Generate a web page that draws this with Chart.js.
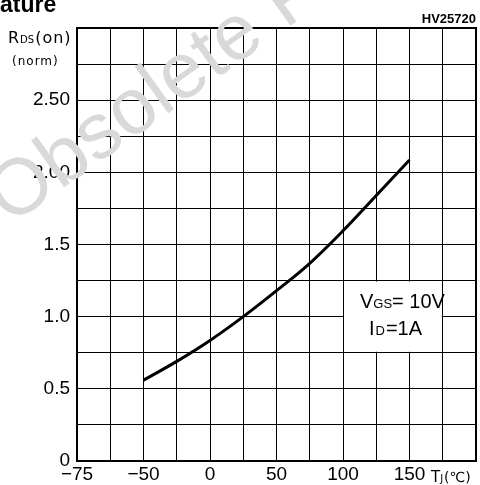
<!DOCTYPE html>
<html>
<head>
<meta charset="utf-8">
<script src="https://cdn.jsdelivr.net/npm/chart.js@4"></script>
<style>
  html, body { margin: 0; padding: 0; background: #fff; }
  #wrap { width: 480px; height: 485px; }
</style>
</head>
<body>
<div id="wrap"><canvas id="rdsChart" width="480" height="485"></canvas></div>
<script>
// junction temperature (°C) and normalized RDS(on)
const tempC = [-50, -25, 0, 25, 50, 75, 100, 125, 150];
const rdsNorm = [0.56, 0.69, 0.835, 1.0, 1.18, 1.37, 1.595, 1.84, 2.085];

// tick labels as printed on the sheet
const xTickValues = [-100, -50, 0, 50, 100, 150];
const xTickLabels = ['\u221275', '\u221250', '0', '50', '100', '150'];
const yTickValues = [0, 0.5, 1.0, 1.5, 2.0, 2.5];
const yTickLabels = ['0', '0.5', '1.0', '1.5', '2.00', '2.50'];

const tickFont = { family: 'Liberation Sans', size: 19 };

// texts drawn on top of the chart
const extras = {
    id: 'extras',
    beforeDatasetsDraw(chart) {
        const { ctx, scales: { x, y } } = chart;
        // white box behind the conditions text
        const l = x.getPixelForValue(100) + 1, r = x.getPixelForValue(175) - 1;
        const t = y.getPixelForValue(1.25) + 1, b = y.getPixelForValue(0.75) - 1;
        ctx.save();
        ctx.fillStyle = '#fff';
        ctx.fillRect(l, t, r - l, b - t);
        ctx.restore();
    },
    afterDraw(chart) {
        const { ctx, chartArea: a } = chart;
        ctx.save();
        ctx.fillStyle = '#000';
        ctx.textBaseline = 'alphabetic';

        // frame
        ctx.strokeStyle = '#000';
        ctx.lineWidth = 2;
        ctx.strokeRect(a.left, a.top, a.right - a.left, a.bottom - a.top);

        // title (cut off at the left edge of the page)
        ctx.font = 'bold 23px "Liberation Sans"';
        ctx.textAlign = 'left';
        ctx.fillText('ature', 0, 12);

        // figure id
        ctx.font = 'bold 13px "Liberation Sans"';
        ctx.textAlign = 'right';
        ctx.fillText('HV25720', 476, 23);

        // y title
        ctx.textAlign = 'left';
        let px = 8;
        ctx.font = '16px "DejaVu Sans"';
        ctx.fillText('R', px, 43); px += ctx.measureText('R').width + 1;
        ctx.font = '10px "DejaVu Sans"';
        ctx.fillText('DS', px, 43); px += ctx.measureText('DS').width + 1;
        ctx.font = '16px "DejaVu Sans"';
        ctx.letterSpacing = '1px';
        ctx.fillText('(on)', px, 43);
        ctx.font = '12px "DejaVu Sans"';
        ctx.fillText('(norm)', 12, 65);
        ctx.letterSpacing = '0px';

        // x title
        px = 431;
        ctx.font = '15px "DejaVu Sans"';
        ctx.fillText('T', px, 482); px += ctx.measureText('T').width;
        ctx.font = '10px "DejaVu Sans"';
        ctx.fillText('J', px, 482); px += ctx.measureText('J').width + 1;
        ctx.font = '14px "DejaVu Sans"';
        ctx.fillText('(\u2103)', px, 482);

        // test conditions
        px = 360;
        ctx.font = '20px "Liberation Sans"';
        ctx.fillText('V', px, 308); px += ctx.measureText('V').width;
        ctx.font = '13px "Liberation Sans"';
        ctx.fillText('GS', px, 308); px += ctx.measureText('GS').width;
        ctx.font = '20px "Liberation Sans"';
        ctx.fillText('= 10V', px, 308);
        px = 369;
        ctx.fillText('I', px, 335); px += ctx.measureText('I').width + 1;
        ctx.font = '13px "Liberation Sans"';
        ctx.fillText('D', px, 335); px += ctx.measureText('D').width + 1;
        ctx.font = '20px "Liberation Sans"';
        ctx.fillText('=1A', px, 335);

        // watermark over everything
        ctx.translate(10, 226);
        ctx.rotate(-0.62);
        ctx.fillStyle = '#d9d9d9';
        ctx.font = '79px "Liberation Sans"';
        ctx.fillText('Obsolete Product(s)', 0, 0);
        ctx.restore();
    }
};

new Chart(document.getElementById('rdsChart'), {
    type: 'line',
    data: {
        datasets: [{
            data: tempC.map((t, i) => ({ x: t, y: rdsNorm[i] })),
            borderColor: '#000',
            borderWidth: 3,
            pointRadius: 0,
            fill: false,
            tension: 0.4
        }]
    },
    options: {
        responsive: false,
        animation: false,
        layout: { padding: { top: 28, right: 4, left: 0, bottom: 0 } },
        plugins: { legend: { display: false }, tooltip: { enabled: false } },
        scales: {
            x: {
                type: 'linear',
                min: -100, max: 200,
                afterFit: (s) => { s.height = 24; },
                grid: { color: '#000', lineWidth: 1, drawTicks: false },
                border: { color: '#000', width: 2 },
                ticks: {
                    stepSize: 25, autoSkip: false, maxRotation: 0, padding: 2,
                    color: '#000', font: tickFont,
                    callback: (v) => {
                        const i = xTickValues.indexOf(v);
                        return i >= 0 ? xTickLabels[i] : '';
                    }
                }
            },
            y: {
                min: 0, max: 3,
                afterFit: (s) => { s.width = 77; },
                grid: { color: '#000', lineWidth: 1, drawTicks: false },
                border: { color: '#000', width: 2 },
                ticks: {
                    stepSize: 0.25, autoSkip: false, padding: 7,
                    color: '#000', font: tickFont,
                    callback: (v) => {
                        const i = yTickValues.findIndex(t => Math.abs(t - v) < 1e-6);
                        return i >= 0 ? yTickLabels[i] : '';
                    }
                }
            }
        }
    },
    plugins: [extras]
});
</script>
</body>
</html>
